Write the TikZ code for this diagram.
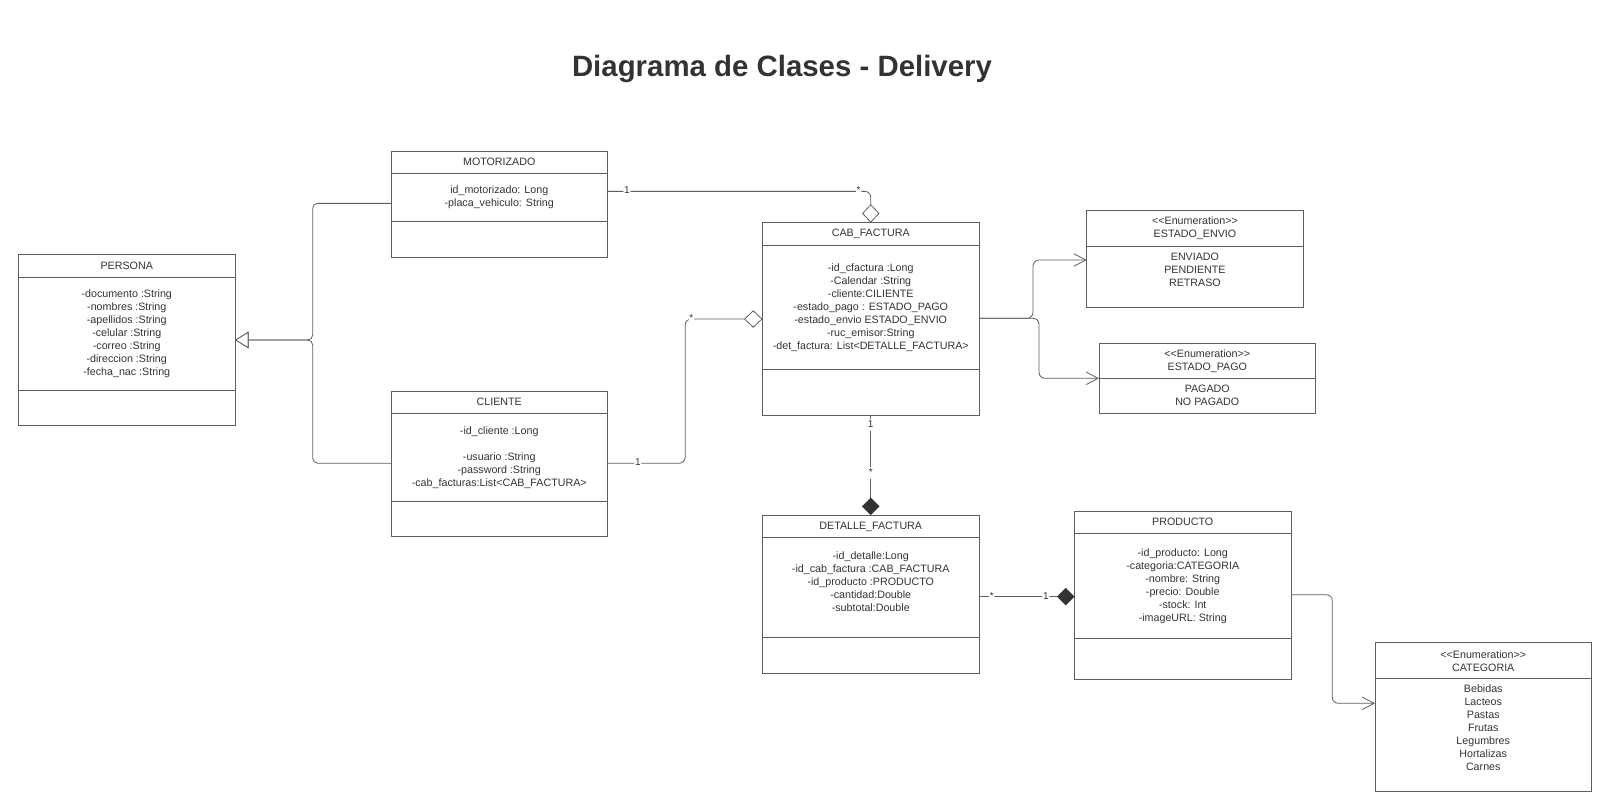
\documentclass[tikz,border=0pt]{standalone}
\usepackage{fontspec}
\setmainfont{Liberation Sans}
\usetikzlibrary{arrows.meta,positioning}
\definecolor{linegray}{HTML}{5E5E5E}
\definecolor{textgray}{HTML}{333333}

\begin{document}
\begin{tikzpicture}[x=1pt, y=-1pt,
  box/.style={draw=linegray, line width=0.95pt, outer sep=0pt, inner sep=0pt,
    minimum width=216.5pt, align=center, text=textgray,
    font=\fontsize{10.7}{13}\selectfont},
  txt/.style={inner sep=0pt, align=center, text=textgray,
    font=\fontsize{10.7}{13}\selectfont},
  conn/.style={draw=linegray, line width=0.8pt, rounded corners=6pt},
  mult/.style={fill=white, inner sep=0.8pt, text height=7.5pt, text depth=2.5pt,
    text=textgray, font=\fontsize{10}{12}\selectfont},
  agg/.style={-{Diamond[fill=white, length=18.5pt, width=17.5pt]}},
  comp/.style={-{Diamond[color=textgray, length=17.5pt, width=17.5pt]}},
  dep/.style={-{Straight Barb[length=12pt, width=12.5pt]}},
  gen/.style={-{Triangle[fill=white, length=13.5pt, width=16.5pt]}}]
  \useasboundingbox (0,0) rectangle (1610,807);

  \node[font=\fontsize{29.4}{35}\selectfont\bfseries, text=textgray] (title) at (782,69) {Diagrama de Clases - Delivery};

  % PERSONA
  \node[box, anchor=north west, minimum height=22.5pt] (per-h) at (18.5,254.5) {PERSONA};
  \node[box, below=0pt of per-h, minimum height=113pt] (per-b) {-documento :String\\-nombres :String\\-apellidos :String\\-celular :String\\-correo :String\\-direccion :String\\-fecha\_nac :String};
  \node[box, below=0pt of per-b, minimum height=35.5pt] (per-m) {};

  % MOTORIZADO
  \node[box, anchor=north west, minimum height=22.5pt] (mot-h) at (391,151) {MOTORIZADO};
  \node[box, below=0pt of mot-h, minimum height=48.3pt] (mot-b) {id\_motorizado: Long\\-placa\_vehiculo: String};
  \node[box, below=0pt of mot-b, minimum height=35.2pt] (mot-m) {};

  % CLIENTE
  \node[box, anchor=north west, minimum height=22.5pt] (cli-h) at (391,391) {CLIENTE};
  \node[box, below=0pt of cli-h, minimum height=87.5pt] (cli-b) {-id\_cliente :Long\\[13pt]-usuario :String\\-password :String\\-cab\_facturas:List<CAB\_FACTURA>};
  \node[box, below=0pt of cli-b, minimum height=35.5pt] (cli-m) {};

  % CAB_FACTURA
  \node[box, anchor=north west, minimum height=22.6pt] (cab-h) at (762.5,222.7) {CAB\_FACTURA};
  \node[box, below=0pt of cab-h, minimum height=124pt] (cab-b) {-id\_cfactura :Long\\-Calendar :String\\-cliente:CILIENTE\\-estado\_pago : ESTADO\_PAGO\\-estado\_envio ESTADO\_ENVIO\\-ruc\_emisor:String\\-det\_factura: List<DETALLE\_FACTURA>};
  \node[box, below=0pt of cab-b, minimum height=45.7pt] (cab-m) {};

  % DETALLE_FACTURA
  \node[box, anchor=north west, minimum height=22.7pt] (det-h) at (762.5,515) {DETALLE\_FACTURA};
  \node[box, below=0pt of det-h, minimum height=100pt] (det-b) {-id\_detalle:Long\\-id\_cab\_factura :CAB\_FACTURA\\-id\_producto :PRODUCTO\\-cantidad:Double\\-subtotal:Double\\\mbox{}};
  \node[box, below=0pt of det-b, minimum height=35.8pt] (det-m) {};

  % PRODUCTO
  \node[box, anchor=north west, minimum height=22.3pt] (prod-h) at (1074.5,511) {PRODUCTO};
  \node[box, below=0pt of prod-h, minimum height=105pt] (prod-b) {-id\_producto: Long\\-categoria:CATEGORIA\\-nombre: String\\-precio: Double\\-stock: Int\\-imageURL: String};
  \node[box, below=0pt of prod-b, minimum height=40.7pt] (prod-m) {};

  % enumeraciones
  \node[box, anchor=north west, minimum height=35.3pt] (envio-h) at (1086.7,210.7) {<{}<Enumeration>{}>\\ESTADO\_ENVIO};
  \node[box, below=0pt of envio-h, minimum height=61.7pt] (envio-b) {};
  \node[txt, below=6.8pt of envio-h] (envio-t) {ENVIADO\\PENDIENTE\\RETRASO};

  \node[box, anchor=north west, minimum height=35pt] (pago-h) at (1099,343.3) {<{}<Enumeration>{}>\\ESTADO\_PAGO};
  \node[box, below=0pt of pago-h, minimum height=35pt] (pago-b) {};
  \node[txt, below=6.3pt of pago-h] (pago-t) {PAGADO\\NO PAGADO};

  \node[box, anchor=north west, minimum height=36pt] (cat-h) at (1375,642.7) {<{}<Enumeration>{}>\\CATEGORIA};
  \node[box, below=0pt of cat-h, minimum height=113pt] (cat-b) {};
  \node[txt, below=5.7pt of cat-h] (cat-t) {Bebidas\\Lacteos\\Pastas\\Frutas\\Legumbres\\Hortalizas\\Carnes};

  % herencia: MOTORIZADO, CLIENTE -> PERSONA
  \draw[conn, rounded corners=5pt, gen] ([yshift=-5.7pt]mot-b.west) -- ++(-78.3,0) |- ([yshift=-6.5pt]per-b.east);
  \draw[conn, rounded corners=5pt, gen] ([yshift=-6pt]cli-b.west) -- ++(-78.3,0) |- ([yshift=-6.5pt]per-b.east);

  % MOTORIZADO 1 -- * CAB_FACTURA
  \draw[conn, agg] ([yshift=6.3pt]mot-b.east) -| node[mult, pos=0.037] (m1) {1} node[mult, pos=0.477] (m2) {*} (cab-h.north);

  % CLIENTE 1 -- * CAB_FACTURA
  \draw[conn, agg] ([yshift=-6pt]cli-b.east) -- node[mult, pos=0.39] (m3) {1} ++(77.7,0) |- node[mult, pos=0.54] (m4) {*} ([yshift=-11.7pt]cab-b.west);

  % CAB_FACTURA 1 -- * DETALLE_FACTURA
  \draw[conn, comp] (cab-m.south) -- node[mult, pos=0.1] (m5) {1} node[mult, pos=0.58] (m6) {*} (det-h.north);

  % DETALLE_FACTURA * -- 1 PRODUCTO
  \coordinate (det-p) at ([yshift=-9pt]det-b.east);
  \draw[conn, comp] (det-p) -- node[mult, pos=0.133] (m7) {*} node[mult, pos=0.7] (m8) {1} (det-p -| prod-b.west);

  % PRODUCTO -> CATEGORIA
  \draw[conn, dep] ([yshift=-8.9pt]prod-b.east) -- ++(41.3,0) |- ([yshift=31.9pt]cat-b.west);

  % CAB_FACTURA -> ESTADO_ENVIO, ESTADO_PAGO
  \draw[conn, dep] ([yshift=-11pt]cab-b.east) -- ++(54,0) |- ([yshift=16.85pt]envio-b.west);
  \draw[conn, dep] ([yshift=-11pt]cab-b.east) -- ++(60,0) |- (pago-h.south west);
\end{tikzpicture}
\end{document}
